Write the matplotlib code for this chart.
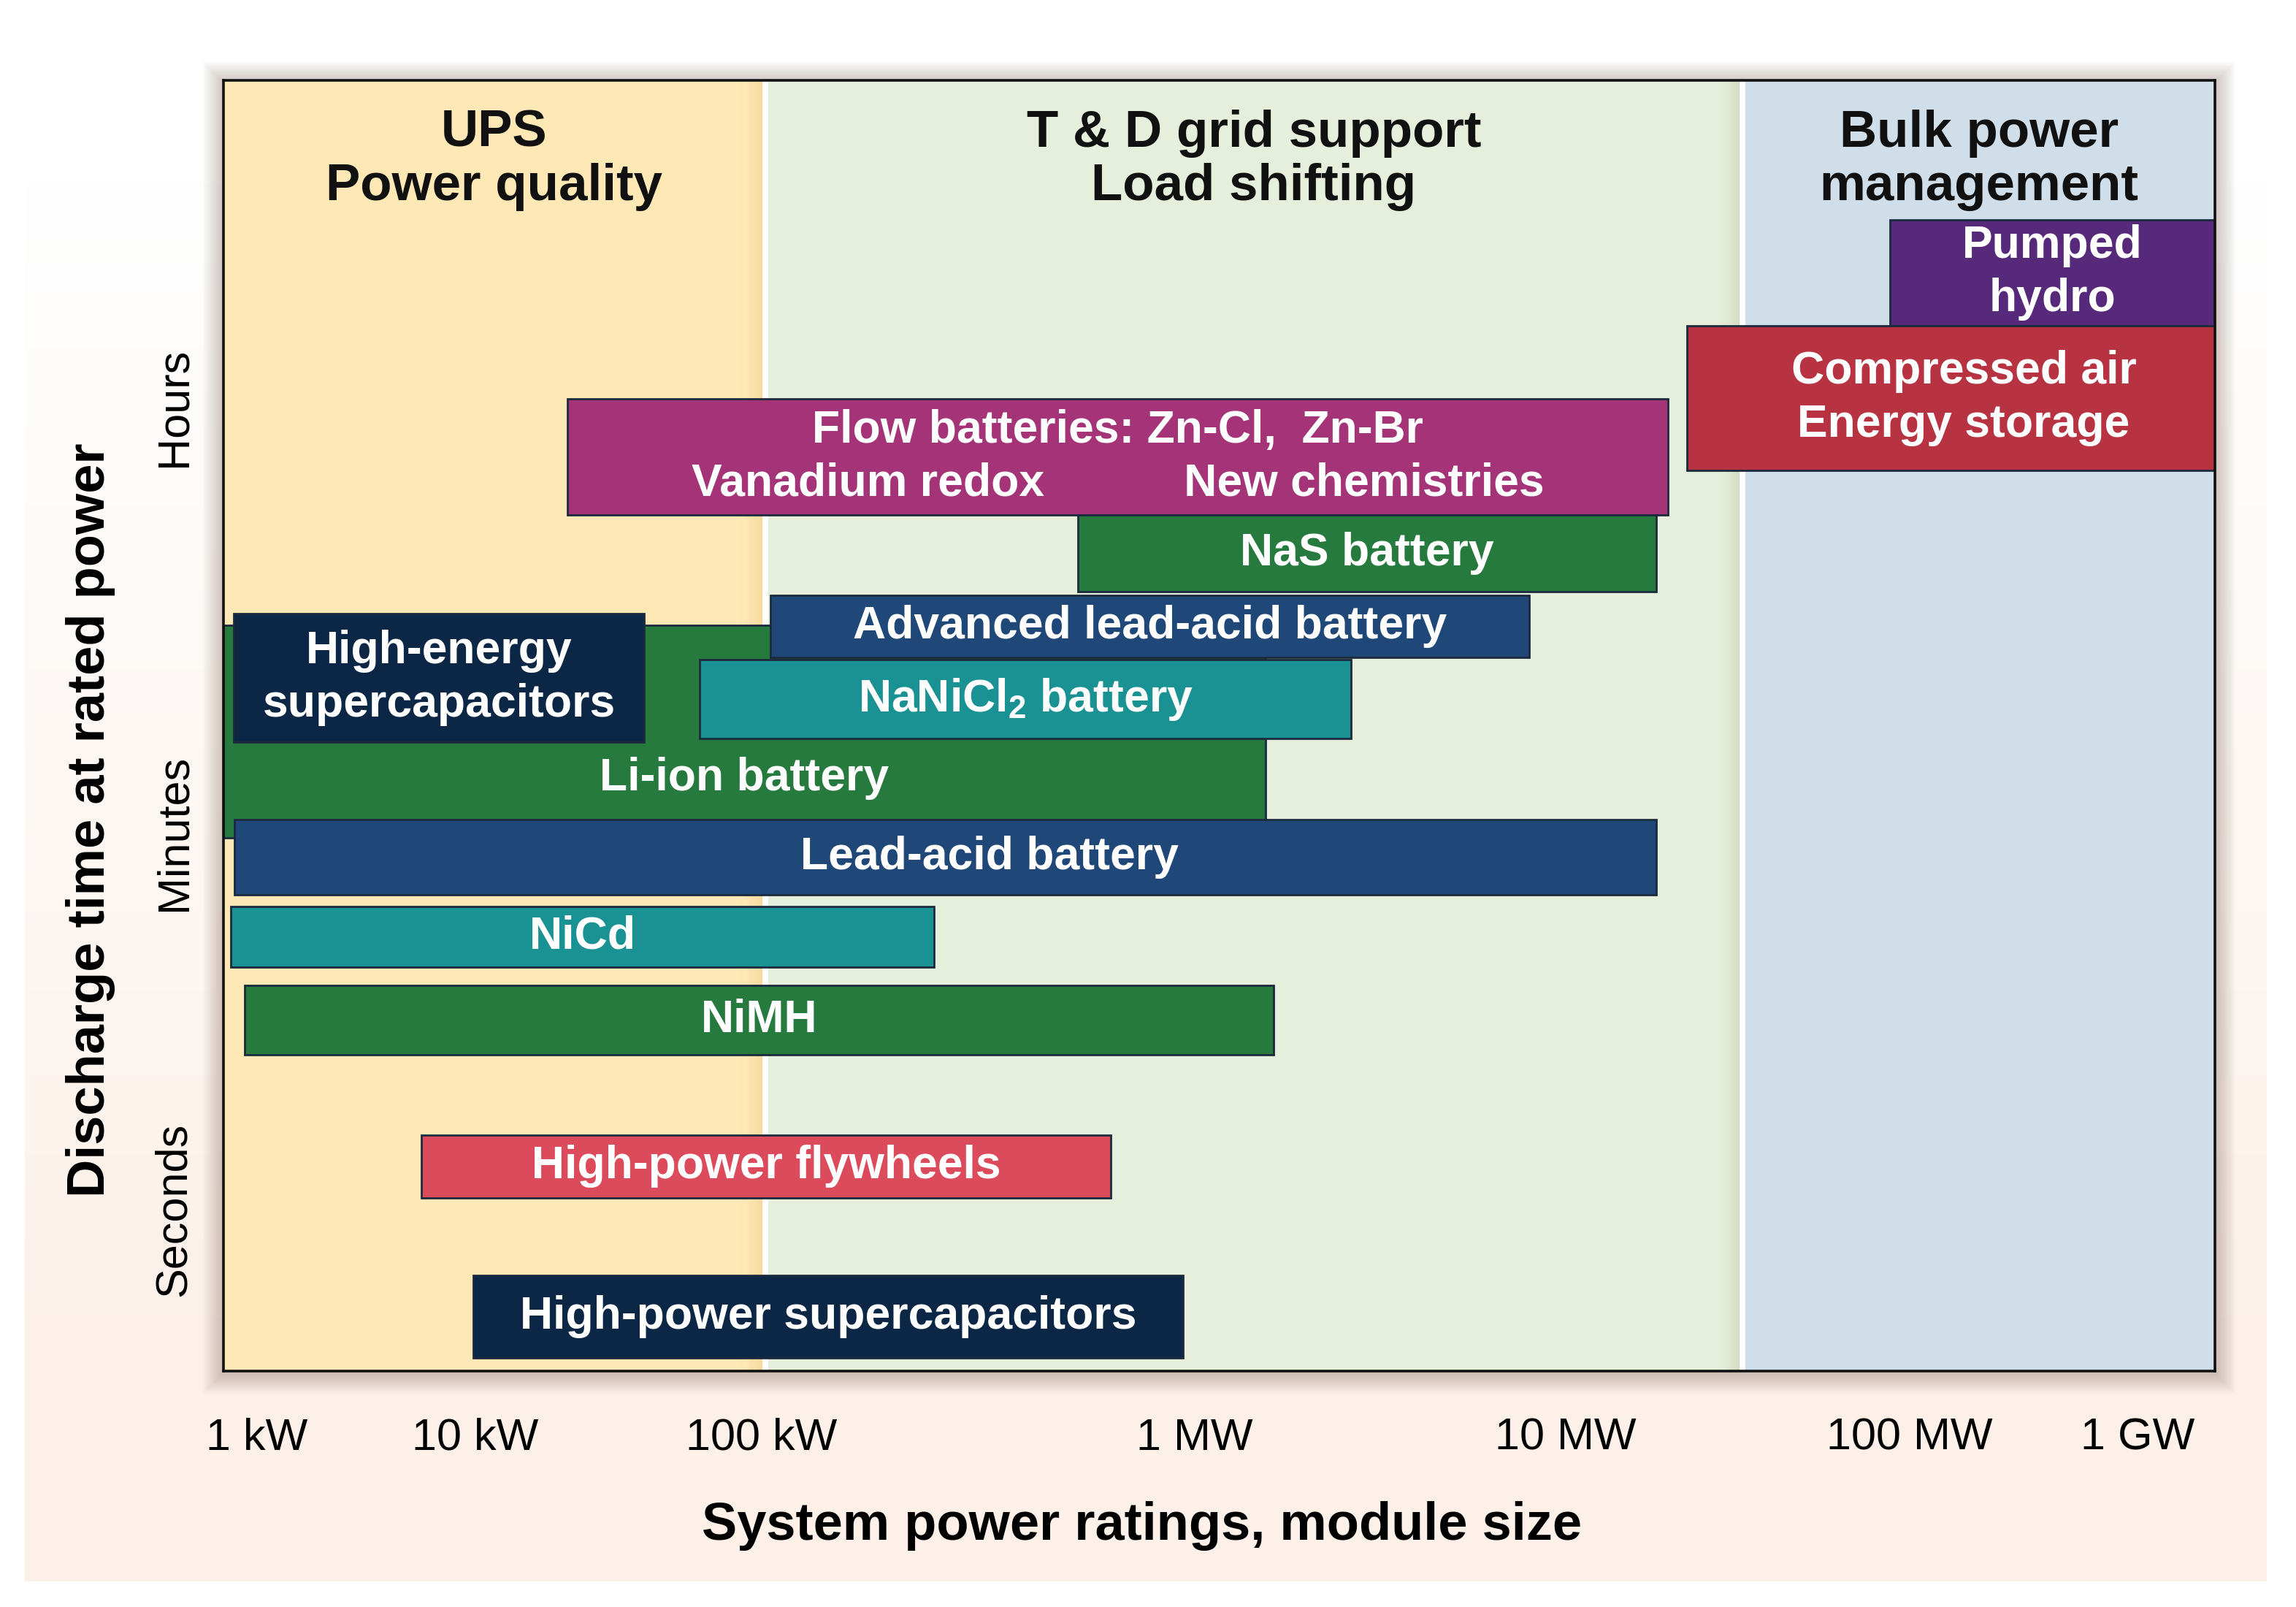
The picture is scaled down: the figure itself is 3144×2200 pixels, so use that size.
import numpy as np
import matplotlib
matplotlib.use("Agg")
import matplotlib.pyplot as plt
from matplotlib.patches import Rectangle

plt.rcParams['font.family'] = ['Liberation Sans', 'DejaVu Sans']
plt.rcParams['mathtext.default'] = 'regular'

# power rating range in kW, discharge time on a schematic 0-100 scale
techs = ["Li-ion battery", "Pumped\nhydro", "Compressed air\nEnergy storage",
         "Flow batteries: Zn-Cl,  Zn-Br\nVanadium redox           New chemistries",
         "NaS battery", "Advanced lead-acid battery", "High-energy\nsupercapacitors",
         "NaNiCl$_2$ battery", "Lead-acid battery", "NiCd", "NiMH",
         "High-power flywheels", "High-power supercapacitors"]
p_low = [0.7, 8.8e4, 2.25e4, 21, 537, 105, 0.78, 61, 0.79, 0.76, 0.88, 5.67, 9.8]
p_high = [1550, 3e6, 3e6, 1.98e4, 1.83e4, 7970, 39, 2640, 1.83e4, 250, 1630, 641, 940]
t_low = [41.3, 81.0, 69.8, 66.3, 60.4, 55.3, 48.7, 49.0, 36.9, 31.3, 24.5, 13.4, 1.0]
t_high = [57.8, 89.2, 81.0, 75.3, 66.3, 60.1, 58.7, 55.1, 42.7, 36.0, 29.9, 18.3, 7.4]
bar_colors = ['#277a3d', '#56297a', '#b83341', '#a43477', '#277a3d', '#1f4778',
              '#0b2745', '#1a9192', '#1f4778', '#1a9192', '#277a3d', '#dc4b5b', '#0b2745']
# labels that don't sit in the middle of their bar
label_pos = {"Li-ion battery": (None, 45.9), "Lead-acid battery": (336, None),
             "Compressed air\nEnergy storage": (1.73e5, None)}

regions = ["UPS\nPower quality", "T & D grid support\nLoad shifting", "Bulk power\nmanagement"]
region_edges = [0.3, 102, 3.27e4, 1e7]
region_colors = ['#fee9b6', '#e6efdc', '#d0dee9']
edge_shade = ['#efc077', '#b3bc98']

tick_kw = [1, 10, 100, 1e3, 1e4, 1e5, 1e6]
tick_labels = ['1 kW', '10 kW', '100 kW', '1 MW', '10 MW', '100 MW', '1 GW']
time_ticks = [12.5, 41.7, 74.7]
time_labels = ['Seconds', 'Minutes', 'Hours']

# the printed power axis is not a clean log axis: every decade has its own width
dec = np.array([-3, 0, 1, 2, 3, 4, 5, 6, 9])
dec_frac = np.array([0.01683 - 3 * 0.10954, 0.01683, 0.12637, 0.27011, 0.48775,
                     0.67411, 0.84653, 0.96124, 0.96124 + 3 * 0.11471])


def fwd(x):
    x = np.clip(np.asarray(x, dtype=float), 1e-3, None)
    return np.interp(np.log10(x), dec, dec_frac)


def inv(f):
    return 10 ** np.interp(np.asarray(f, dtype=float), dec_frac, dec)


fig = plt.figure(figsize=(31.44, 22), dpi=100)

# page background + soft shadow round the frame
bg = fig.add_axes([0, 0, 1, 1])
bg.set_zorder(-1)
bg.set_xlim(0, 3144)
bg.set_ylim(0, 2200)
bg.axis('off')
t = np.linspace(0, 1, 300)[:, None]
t = np.clip(t * 1.3 - 0.15, 0, 1)
peach = np.array([252, 240, 232]) / 255
grad = peach[None, None, :] * (1 - t[..., None]) + np.ones(3)[None, None, :] * t[..., None]
grad = np.repeat(grad, 2, axis=1)
bg.imshow(grad, extent=(34, 3104, 35, 2200), origin='lower', aspect='auto')
for i in range(14):
    d = 2 + i * 2
    bg.add_patch(Rectangle((306 - d, 323 - d - 3), 2727 + 2 * d, 1767 + 2 * d,
                           color='#6e5040', alpha=0.022, lw=0))

ax = fig.add_axes([306 / 3144, 323 / 2200, 2727 / 3144, 1767 / 2200])
ax.set_xscale('function', functions=(fwd, inv))

for i in range(3):
    ax.axvspan(region_edges[i], region_edges[i + 1], color=region_colors[i], lw=0, zorder=0.5)

# darker fade just before each region boundary, then a white divider
n = 24
for j, b in enumerate(region_edges[1:3]):
    fb = float(fwd(b))
    w = 0.013
    for k in range(n):
        a = 0.45 * ((k + 1) / n) ** 1.6
        ax.add_patch(Rectangle((fb - w + k * w / n, 0), w / n, 1, transform=ax.transAxes,
                               color=edge_shade[j], alpha=a, lw=0, zorder=0.8))
    ax.axvline(b, color='white', lw=5.5, zorder=1)

xlo, xhi = float(inv(0)), float(inv(1))
for i, name in enumerate(techs):
    ax.barh(t_low[i], p_high[i] - p_low[i], height=t_high[i] - t_low[i], left=p_low[i],
            align='edge', color=bar_colors[i], edgecolor='#1b2a3d', lw=2, zorder=3)
    lx, ly = label_pos.get(name, (None, None))
    if lx is None:
        lx = float(inv((fwd(max(p_low[i], xlo)) + fwd(min(p_high[i], xhi))) / 2))
    if ly is None:
        ly = (t_low[i] + t_high[i]) / 2
    ax.text(lx, ly, name, ha='center', va='center', color='white', fontsize=45,
            fontweight='bold', linespacing=1.3, zorder=5)

for i, name in enumerate(regions):
    f0 = max(float(fwd(region_edges[i])), 0)
    f1 = min(float(fwd(region_edges[i + 1])), 1)
    ax.text((f0 + f1) / 2, 0.938, name, transform=ax.transAxes, ha='center', va='center',
            fontsize=51, fontweight='bold', color='#111111', linespacing=1.15, zorder=5)

ax.set_xlim(xlo, xhi)
ax.set_ylim(0, 100)
ax.set_xticks(tick_kw, tick_labels)
ax.minorticks_off()
ax.set_yticks(time_ticks, time_labels, rotation=90, va='center')
ax.tick_params(axis='x', length=0, pad=46, labelsize=44)
ax.tick_params(axis='y', length=0, pad=28, labelsize=44)

ax.set_xlabel('System power ratings, module size', fontsize=52, fontweight='bold', va='center')
ax.xaxis.set_label_coords(0.461, -0.12)
ax.set_ylabel('Discharge time at rated power', fontsize=52, fontweight='bold', va='center')
ax.yaxis.set_label_coords(-0.0667, 0.427)

for s in ax.spines.values():
    s.set_linewidth(2.6)
    s.set_color('#111111')
    s.set_zorder(10)

fig.savefig('out.png', dpi=100)
